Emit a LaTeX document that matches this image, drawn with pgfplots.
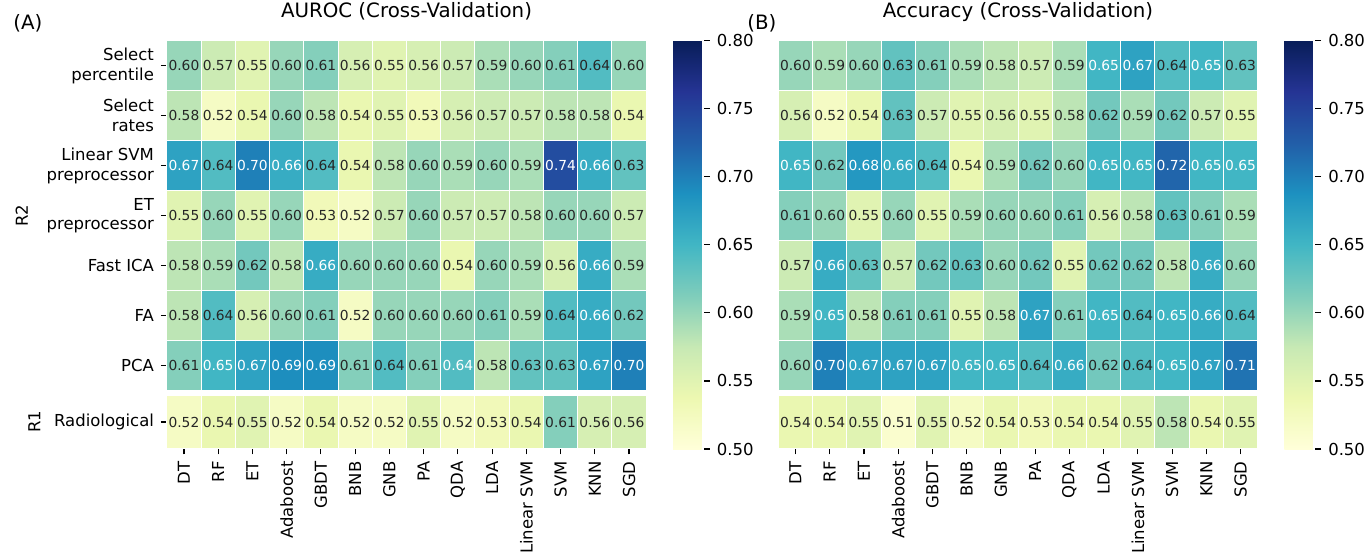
\documentclass[border=0pt]{standalone}
\usepackage{fontspec}
\setmainfont{DejaVu Sans}
\usepackage{pgfplots}
\usepackage{pgfplotstable}
\pgfplotsset{compat=1.18}
\pgfplotsset{/pgf/number format/assume math mode=true}
\definecolor{txt}{RGB}{38,38,38}
\newcommand{\ticklabfont}{\fontsize{8.25}{9.9}\selectfont}
\newcommand{\titlefont}{\fontsize{9.9}{12}\selectfont}
\newcommand{\annotfont}{\fontsize{6.9}{8}\selectfont}

% AUROC, R2 block (y = row index from top)
\pgfplotstableread[row sep=\\]{
x y v\\
0 0 0.60\\ 1 0 0.57\\ 2 0 0.55\\ 3 0 0.60\\ 4 0 0.61\\ 5 0 0.56\\ 6 0 0.55\\ 7 0 0.56\\ 8 0 0.57\\ 9 0 0.59\\ 10 0 0.60\\ 11 0 0.61\\ 12 0 0.64\\ 13 0 0.60\\
0 1 0.58\\ 1 1 0.52\\ 2 1 0.54\\ 3 1 0.60\\ 4 1 0.58\\ 5 1 0.54\\ 6 1 0.55\\ 7 1 0.53\\ 8 1 0.56\\ 9 1 0.57\\ 10 1 0.57\\ 11 1 0.58\\ 12 1 0.58\\ 13 1 0.54\\
0 2 0.67\\ 1 2 0.64\\ 2 2 0.70\\ 3 2 0.66\\ 4 2 0.64\\ 5 2 0.54\\ 6 2 0.58\\ 7 2 0.60\\ 8 2 0.59\\ 9 2 0.60\\ 10 2 0.59\\ 11 2 0.74\\ 12 2 0.66\\ 13 2 0.63\\
0 3 0.55\\ 1 3 0.60\\ 2 3 0.55\\ 3 3 0.60\\ 4 3 0.53\\ 5 3 0.52\\ 6 3 0.57\\ 7 3 0.60\\ 8 3 0.57\\ 9 3 0.57\\ 10 3 0.58\\ 11 3 0.60\\ 12 3 0.60\\ 13 3 0.57\\
0 4 0.58\\ 1 4 0.59\\ 2 4 0.62\\ 3 4 0.58\\ 4 4 0.66\\ 5 4 0.60\\ 6 4 0.60\\ 7 4 0.60\\ 8 4 0.54\\ 9 4 0.60\\ 10 4 0.59\\ 11 4 0.56\\ 12 4 0.66\\ 13 4 0.59\\
0 5 0.58\\ 1 5 0.64\\ 2 5 0.56\\ 3 5 0.60\\ 4 5 0.61\\ 5 5 0.52\\ 6 5 0.60\\ 7 5 0.60\\ 8 5 0.60\\ 9 5 0.61\\ 10 5 0.59\\ 11 5 0.64\\ 12 5 0.66\\ 13 5 0.62\\
0 6 0.61\\ 1 6 0.65\\ 2 6 0.67\\ 3 6 0.69\\ 4 6 0.69\\ 5 6 0.61\\ 6 6 0.64\\ 7 6 0.61\\ 8 6 0.64\\ 9 6 0.58\\ 10 6 0.63\\ 11 6 0.63\\ 12 6 0.67\\ 13 6 0.70\\
}\tabAtop

% AUROC, R1 row
\pgfplotstableread[row sep=\\]{
x y v\\
0 0 0.52\\ 1 0 0.54\\ 2 0 0.55\\ 3 0 0.52\\ 4 0 0.54\\ 5 0 0.52\\ 6 0 0.52\\ 7 0 0.55\\ 8 0 0.52\\ 9 0 0.53\\ 10 0 0.54\\ 11 0 0.61\\ 12 0 0.56\\ 13 0 0.56\\
}\tabAbot

% Accuracy, R2 block
\pgfplotstableread[row sep=\\]{
x y v\\
0 0 0.60\\ 1 0 0.59\\ 2 0 0.60\\ 3 0 0.63\\ 4 0 0.61\\ 5 0 0.59\\ 6 0 0.58\\ 7 0 0.57\\ 8 0 0.59\\ 9 0 0.65\\ 10 0 0.67\\ 11 0 0.64\\ 12 0 0.65\\ 13 0 0.63\\
0 1 0.56\\ 1 1 0.52\\ 2 1 0.54\\ 3 1 0.63\\ 4 1 0.57\\ 5 1 0.55\\ 6 1 0.56\\ 7 1 0.55\\ 8 1 0.58\\ 9 1 0.62\\ 10 1 0.59\\ 11 1 0.62\\ 12 1 0.57\\ 13 1 0.55\\
0 2 0.65\\ 1 2 0.62\\ 2 2 0.68\\ 3 2 0.66\\ 4 2 0.64\\ 5 2 0.54\\ 6 2 0.59\\ 7 2 0.62\\ 8 2 0.60\\ 9 2 0.65\\ 10 2 0.65\\ 11 2 0.72\\ 12 2 0.65\\ 13 2 0.65\\
0 3 0.61\\ 1 3 0.60\\ 2 3 0.55\\ 3 3 0.60\\ 4 3 0.55\\ 5 3 0.59\\ 6 3 0.60\\ 7 3 0.60\\ 8 3 0.61\\ 9 3 0.56\\ 10 3 0.58\\ 11 3 0.63\\ 12 3 0.61\\ 13 3 0.59\\
0 4 0.57\\ 1 4 0.66\\ 2 4 0.63\\ 3 4 0.57\\ 4 4 0.62\\ 5 4 0.63\\ 6 4 0.60\\ 7 4 0.62\\ 8 4 0.55\\ 9 4 0.62\\ 10 4 0.62\\ 11 4 0.58\\ 12 4 0.66\\ 13 4 0.60\\
0 5 0.59\\ 1 5 0.65\\ 2 5 0.58\\ 3 5 0.61\\ 4 5 0.61\\ 5 5 0.55\\ 6 5 0.58\\ 7 5 0.67\\ 8 5 0.61\\ 9 5 0.65\\ 10 5 0.64\\ 11 5 0.65\\ 12 5 0.66\\ 13 5 0.64\\
0 6 0.60\\ 1 6 0.70\\ 2 6 0.67\\ 3 6 0.67\\ 4 6 0.67\\ 5 6 0.65\\ 6 6 0.65\\ 7 6 0.64\\ 8 6 0.66\\ 9 6 0.62\\ 10 6 0.64\\ 11 6 0.65\\ 12 6 0.67\\ 13 6 0.71\\
}\tabBtop

% Accuracy, R1 row
\pgfplotstableread[row sep=\\]{
x y v\\
0 0 0.54\\ 1 0 0.54\\ 2 0 0.55\\ 3 0 0.51\\ 4 0 0.55\\ 5 0 0.52\\ 6 0 0.54\\ 7 0 0.53\\ 8 0 0.54\\ 9 0 0.54\\ 10 0 0.55\\ 11 0 0.58\\ 12 0 0.54\\ 13 0 0.55\\
}\tabBbot

\pgfplotsset{
  colormap={ylgnbu}{rgb255=(255,255,217) rgb255=(237,248,177) rgb255=(199,233,180) rgb255=(127,205,187) rgb255=(65,182,196) rgb255=(29,145,192) rgb255=(34,94,168) rgb255=(37,52,148) rgb255=(8,29,88)},
  hm/.style={
    scale only axis, anchor=north west, width=239.7pt,
    xmin=-0.5, xmax=13.5,
    colormap name=ylgnbu, point meta min=0.5, point meta max=0.8,
    axis line style={draw=none},
    tick align=outside, tick pos=left, major tick length=2.9pt,
    tick style={line width=0.6pt, color=black},
    ticklabel style={font=\ticklabfont},
    yticklabel style={align=right},
    ylabel style={font=\ticklabfont},
    title style={font=\titlefont, at={(0.5,1)}, anchor=base, yshift=5.6pt},
  },
  cbstyle/.style={
    colormap name=ylgnbu, point meta min=0.5, point meta max=0.8,
    colorbar style={
      at={#1}, anchor=north west,
      scale only axis, width=15.5pt, height=204.25pt,
      axis line style={draw=none},
      ytick={0.5,0.55,0.6,0.65,0.7,0.75,0.8},
      ytick pos=right, yticklabel pos=right,
      yticklabel style={font=\ticklabfont, /pgf/number format/fixed, /pgf/number format/fixed zerofill, /pgf/number format/precision=2},
      tick align=outside, major tick length=2.9pt,
      tick style={line width=0.6pt, color=black},
    },
  },
  heatcells/.style={
    scatter, only marks, mark=square*, mark size=1pt,
    mark options={xscale=8.56, yscale=#1, line width=0.5pt},
    scatter/use mapped color={draw=white, fill=mapped color},
    point meta=explicit,
  },
  heatlabels/.style={
    draw=none, mark=none,
    point meta=explicit symbolic,
    nodes near coords={\ifdim\pgfplotspointmeta pt>0.645pt\color{white}\else\ifnum\coordindex=#1\relax\color{white}\else\color{txt}\fi\fi\pgfplotspointmeta},
    nodes near coords style={anchor=center, font=\annotfont, inner sep=0pt},
  },
  heatlabels/.default=-1,
}

\begin{document}
\begin{tikzpicture}
\useasboundingbox (0pt,0pt) rectangle (682pt,-279.5pt);

% ---------------- Panel A ----------------
\begin{axis}[hm, at={(83.4pt,-20.35pt)}, height=175pt,
  ymin=-0.5, ymax=6.5, y dir=reverse,
  xtick=\empty,
  ytick={0,1,2,3,4,5,6},
  yticklabels={{Select\\percentile},{Select\\rates},{Linear SVM\\preprocessor},{ET\\preprocessor},{Fast ICA},{FA},{PCA}},
  ylabel={R2}, ylabel shift=2.5pt,
  title={AUROC (Cross-Validation)},
]
\addplot[heatcells=12.5] table[x=x, y=y, meta=v] {\tabAtop};
\addplot[heatlabels=92] table[x=x, y=y, meta=v] {\tabAtop};
\end{axis}

\begin{axis}[hm, at={(83.4pt,-197.75pt)}, height=26.5pt,
  ymin=-0.5, ymax=0.5,
  xtick={0,...,13},
  xticklabels={DT,RF,ET,Adaboost,GBDT,BNB,GNB,PA,QDA,LDA,Linear SVM,SVM,KNN,SGD},
  xticklabel style={rotate=90, anchor=east},
  ytick={0}, yticklabels={Radiological},
  ylabel={R1},
]
\addplot[heatcells=13.25] table[x=x, y=y, meta=v] {\tabAbot};
\addplot[heatlabels] table[x=x, y=y, meta=v] {\tabAbot};
\end{axis}

\pgfplotscolorbardrawstandalone[cbstyle={(328pt,-20.25pt)}]

\node[anchor=base west, font=\titlefont, inner sep=0pt] at (6.5pt,-14.75pt) {(A)};

% ---------------- Panel B ----------------
\begin{axis}[hm, at={(389.15pt,-20.35pt)}, height=175pt,
  ymin=-0.5, ymax=6.5, y dir=reverse,
  xtick=\empty, ytick=\empty,
  title={Accuracy (Cross-Validation)},
]
\addplot[heatcells=12.5] table[x=x, y=y, meta=v] {\tabBtop};
\addplot[heatlabels] table[x=x, y=y, meta=v] {\tabBtop};
\end{axis}

\begin{axis}[hm, at={(389.15pt,-197.75pt)}, height=26.5pt,
  ymin=-0.5, ymax=0.5,
  xtick={0,...,13},
  xticklabels={DT,RF,ET,Adaboost,GBDT,BNB,GNB,PA,QDA,LDA,Linear SVM,SVM,KNN,SGD},
  xticklabel style={rotate=90, anchor=east},
  ytick=\empty,
]
\addplot[heatcells=13.25] table[x=x, y=y, meta=v] {\tabBbot};
\addplot[heatlabels] table[x=x, y=y, meta=v] {\tabBbot};
\end{axis}

\pgfplotscolorbardrawstandalone[cbstyle={(633.65pt,-20.25pt)}]

\node[anchor=base west, font=\titlefont, inner sep=0pt] at (373.5pt,-14.75pt) {(B)};
\end{tikzpicture}
\end{document}
